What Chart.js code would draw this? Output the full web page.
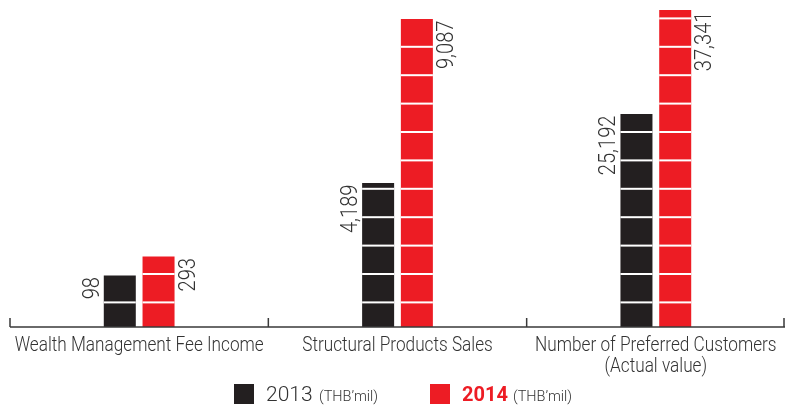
<!DOCTYPE html>
<html>
<head>
<meta charset="utf-8">
<script src="https://cdn.jsdelivr.net/npm/chart.js@4"></script>
<style>
  html, body { margin: 0; padding: 0; background: #fff; }
  #wrap { width: 785px; height: 406px; }
</style>
</head>
<body>
<div id="wrap"><canvas id="kpiChart" width="785" height="406"></canvas></div>
<script>
// categories and figures
const categories = [
    ['Wealth Management Fee Income'],
    ['Structural Products Sales'],
    ['Number of Preferred Customers', '(Actual value)']
];
const values2013 = [98, 4189, 25192];
const values2014 = [293, 9087, 37341];
// bar heights as drawn (the infographic is not to scale)
const heights2013 = [51.5, 144, 213];
const heights2014 = [70.5, 308, 317];

const BLACK = '#231f20';
const RED = '#ed1c24';
const TEXT = '#333333';

function fmt(v) { return v.toLocaleString('en-US'); }

const infoPlugin = {
    id: 'info',
    afterDatasetsDraw(chart) {
        const ctx = chart.ctx;
        const x = chart.scales.x;
        const y = chart.scales.y;
        const area = chart.chartArea;

        // white cuts across the bars
        chart.data.datasets.forEach((ds, di) => {
            chart.getDatasetMeta(di).data.forEach((bar, i) => {
                const left = bar.x - bar.width / 2;
                ctx.fillStyle = '#fff';
                for (let v = 24.6; v < ds.data[i]; v += 28.4) {
                    const py = y.getPixelForValue(v);
                    ctx.fillRect(left, py - 1, bar.width, 2);
                }
            });
        });

        // rotated value labels
        ctx.save();
        ctx.fillStyle = TEXT;
        ctx.font = '300 24px Roboto';
        ctx.textBaseline = 'alphabetic';
        chart.data.datasets.forEach((ds, di) => {
            chart.getDatasetMeta(di).data.forEach((bar, i) => {
                const txt = fmt(ds.values[i]);
                const px = di === 0 ? bar.x - bar.width / 2 - 5 : bar.x + bar.width / 2 + 20;
                ctx.save();
                ctx.translate(px, bar.y + 1.5);
                ctx.rotate(-Math.PI / 2);
                ctx.scale(0.84, 1);
                ctx.textAlign = 'right';
                ctx.fillText(txt, 0, 0);
                ctx.restore();
            });
        });
        ctx.restore();

        // axis line and ticks
        ctx.save();
        ctx.strokeStyle = '#3a3a3a';
        ctx.lineWidth = 1.5;
        const base = area.bottom;
        const right = Math.min(area.right, chart.width);
        ctx.beginPath();
        ctx.moveTo(area.left, base);
        ctx.lineTo(right, base);
        const step = x.width / categories.length;
        for (let i = 0; i <= categories.length; i++) {
            const tx = Math.min(area.left + step * i, right - 1);
            ctx.moveTo(tx, base);
            ctx.lineTo(tx, base - 9);
        }
        ctx.stroke();
        ctx.restore();

        // category labels
        ctx.save();
        ctx.fillStyle = TEXT;
        ctx.font = '300 20px Roboto';
        ctx.textAlign = 'center';
        ctx.textBaseline = 'alphabetic';
        categories.forEach((lines, i) => {
            const cx = x.getPixelForValue(i);
            lines.forEach((ln, k) => {
                ctx.save();
                ctx.translate(cx, base + 24 + k * 21);
                ctx.scale(0.86, 1);
                ctx.fillText(ln, 0, 0);
                ctx.restore();
            });
        });
        ctx.restore();

        // legend
        ctx.save();
        ctx.textBaseline = 'alphabetic';
        ctx.textAlign = 'left';
        ctx.fillStyle = BLACK;
        ctx.fillRect(234, 384, 20, 20);
        ctx.fillStyle = TEXT;
        ctx.font = '300 21px Roboto';
        ctx.fillText('2013', 266, 401);
        ctx.font = '300 14.5px Roboto';
        ctx.fillText('(THB\u2019mil)', 319, 401);
        ctx.fillStyle = RED;
        ctx.fillRect(430, 384, 20, 20);
        ctx.font = 'bold 20px Roboto';
        ctx.fillText('2014', 462, 401);
        ctx.fillStyle = TEXT;
        ctx.font = '300 14.5px Roboto';
        ctx.fillText('(THB\u2019mil)', 513, 401);
        ctx.restore();
    }
};

new Chart(document.getElementById('kpiChart'), {
    type: 'bar',
    data: {
        labels: categories,
        datasets: [{
            label: '2013',
            data: heights2013,
            values: values2013,
            backgroundColor: BLACK
        }, {
            label: '2014',
            data: heights2014,
            values: values2014,
            backgroundColor: RED
        }]
    },
    options: {
        responsive: false,
        animation: false,
        layout: { padding: { left: 10, right: -5, top: 0, bottom: 79 } },
        datasets: {
            bar: { categoryPercentage: 0.3, barPercentage: 0.826, borderWidth: 0 }
        },
        scales: {
            x: { display: false },
            y: { display: false, min: 0, max: 327 }
        },
        plugins: {
            legend: { display: false },
            tooltip: { enabled: false }
        }
    },
    plugins: [infoPlugin]
});
</script>
</body>
</html>
